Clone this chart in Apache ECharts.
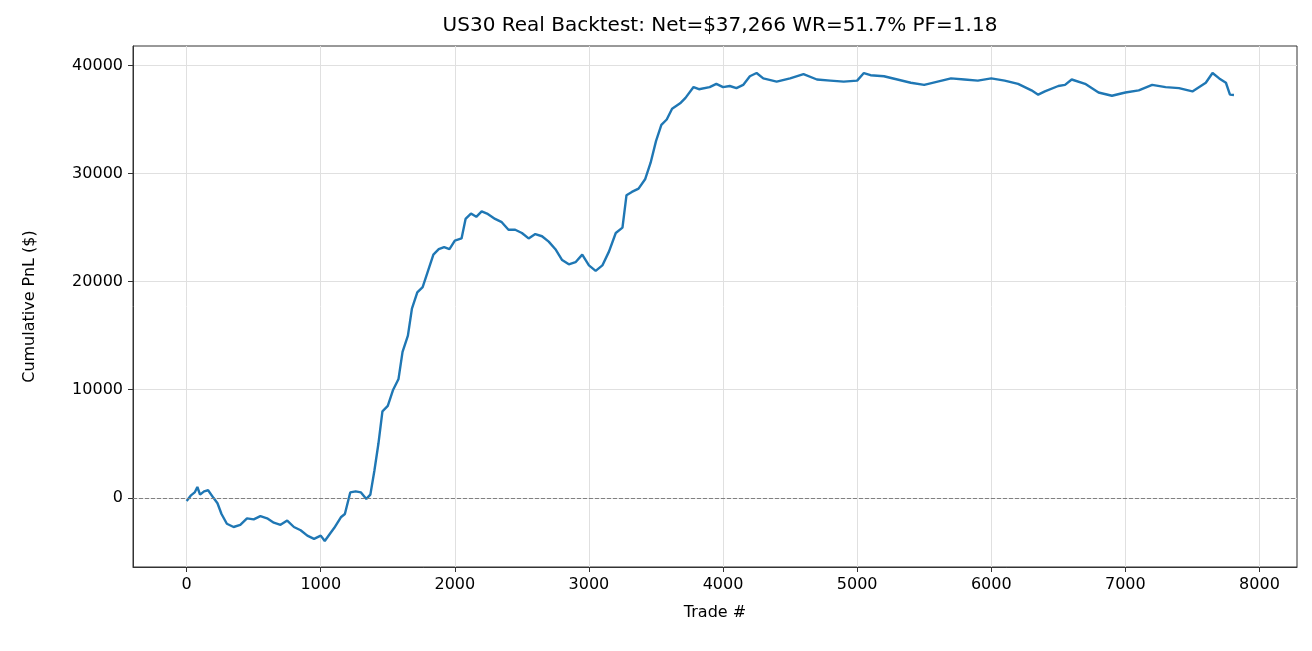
<!DOCTYPE html>
<html><head><meta charset="utf-8">
<script src="https://cdn.jsdelivr.net/npm/echarts@6/dist/echarts.min.js"></script>
<style>html,body{margin:0;background:#fff}#main{width:1312px;height:651px}</style>
</head><body><div id="main"></div>
<script>
// trade index and cumulative pnl
var trades = [0,30,60,80,100,130,160,200,230,260,300,350,400,450,500,550,600,650,700,750,800,850,900,950,1000,1030,1070,1100,1150,1180,1220,1260,1300,1340,1370,1400,1430,1460,1500,1540,1580,1610,1650,1680,1720,1760,1800,1840,1880,1920,1960,2000,2050,2080,2120,2160,2200,2240,2300,2350,2400,2450,2500,2550,2600,2650,2700,2750,2800,2850,2900,2950,3000,3050,3100,3150,3200,3250,3280,3320,3370,3420,3460,3500,3540,3580,3620,3680,3720,3780,3820,3900,3950,4000,4050,4100,4150,4200,4250,4300,4400,4500,4600,4700,4800,4900,5000,5050,5100,5200,5300,5400,5500,5600,5700,5800,5900,6000,6100,6200,6300,6350,6400,6500,6550,6600,6700,6800,6900,7000,7100,7200,7300,7400,7500,7600,7650,7700,7750,7780,7810];
var pnl = [-300,200,500,1000,300,600,700,0,-500,-1500,-2400,-2700,-2500,-1900,-2000,-1700,-1900,-2300,-2500,-2100,-2700,-3000,-3500,-3800,-3500,-4000,-3300,-2800,-1800,-1500,500,600,500,-100,300,2500,5000,8000,8500,10000,11000,13500,15000,17500,19000,19500,21000,22500,23000,23200,23000,23800,24000,25800,26300,26000,26500,26300,25800,25500,24800,24800,24500,24000,24400,24200,23700,23000,22000,21600,21800,22500,21500,21000,21500,22800,24500,25000,28000,28300,28600,29500,31000,33000,34500,35000,36000,36500,37000,38000,37800,38000,38300,38000,38100,37900,38200,39000,39300,38800,38500,38800,39200,38700,38600,38500,38600,39300,39100,39000,38700,38400,38200,38500,38800,38700,38600,38800,38600,38300,37700,37300,37600,38100,38200,38700,38300,37500,37200,37500,37700,38200,38000,37900,37600,38400,39300,38800,38400,37300,37266];
var xTicks = [0,1000,2000,3000,4000,5000,6000,7000,8000];
var yTicks = [0,10000,20000,30000,40000];

var points = trades.map(function(t,i){ return [t,pnl[i]]; });
var font = 'DejaVu Sans';
var plain = function(v){ return String(v); };
var chart = echarts.init(document.getElementById('main'));
chart.setOption({
    animation:false,
    title:{text:'US30 Real Backtest: Net=$37,266 WR=51.7% PF=1.18',left:715,top:11,textAlign:'center',
        textStyle:{fontFamily:font,fontSize:20,fontWeight:'normal',color:'#000'}},
    grid:{left:133,right:15,top:46,bottom:84,show:true,borderColor:'#333',borderWidth:1},
    xAxis:{type:'value',min:-400,max:8280,name:'Trade #',nameLocation:'middle',nameGap:38,
        nameTextStyle:{fontFamily:font,fontSize:16,color:'#000'},
        axisLine:{show:true,onZero:false,lineStyle:{color:'#333'}},
        axisTick:{show:true,customValues:xTicks,length:5,lineStyle:{color:'#333'}},
        axisLabel:{customValues:xTicks,formatter:plain,fontFamily:font,fontSize:16,color:'#000',margin:10},
        splitLine:{show:true,lineStyle:{color:'#e0e0e0'}}},
    yAxis:{type:'value',min:-6400,max:41800,name:'Cumulative PnL ($)',nameLocation:'middle',nameGap:95,
        nameTextStyle:{fontFamily:font,fontSize:16,color:'#000'},
        axisLine:{show:true,onZero:false,lineStyle:{color:'#333'}},
        axisTick:{show:true,customValues:yTicks,length:5,lineStyle:{color:'#333'}},
        axisLabel:{customValues:yTicks,formatter:plain,fontFamily:font,fontSize:16,color:'#000',margin:10},
        splitLine:{show:true,lineStyle:{color:'#e0e0e0'}}},
    series:[{type:'line',data:points,showSymbol:false,lineStyle:{color:'#1f77b4',width:2.4},
        markLine:{silent:true,symbol:'none',label:{show:false},
            lineStyle:{color:'#808080',type:'dashed',width:1},data:[{yAxis:0}]}}]
});
</script></body></html>
